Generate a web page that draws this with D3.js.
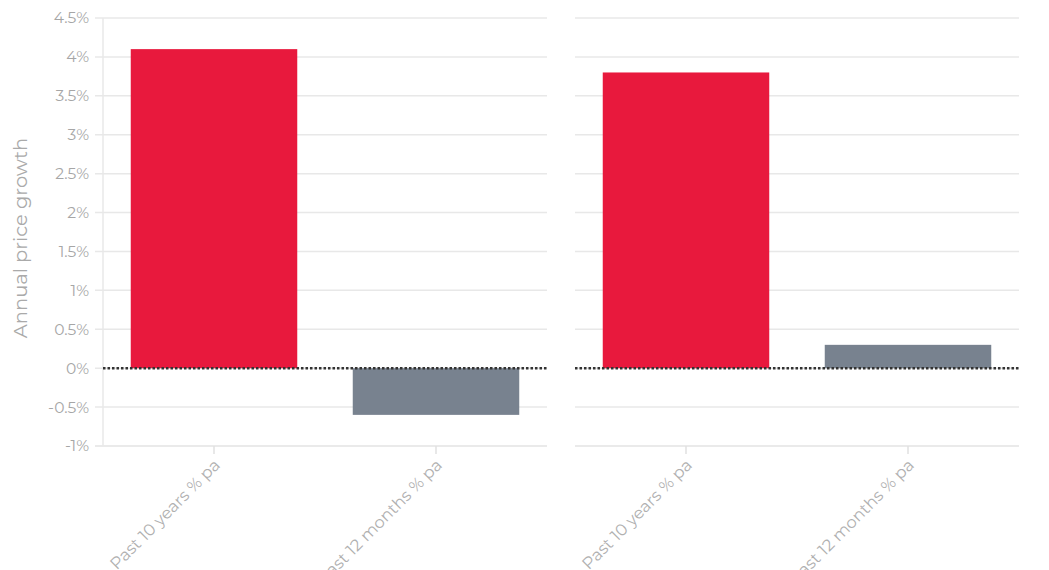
<!DOCTYPE html>
<html>
<head>
<meta charset="utf-8">
<script src="https://cdn.jsdelivr.net/npm/d3@7"></script>
<style>
  body { margin: 0; background: #fff; }
  svg text { font-family: Montserrat, "Open Sans", sans-serif; }
</style>
</head>
<body>
<svg id="chart" width="1049" height="570"></svg>
<script>
// categories and values
var categories = ['Past 10 years % pa', 'Past 12 months % pa']
var leftValues = [4.1, -0.6]
var rightValues = [3.8, 0.3]
var yTicks = [-1, -0.5, 0, 0.5, 1, 1.5, 2, 2.5, 3, 3.5, 4, 4.5]
var barColors = ['#e8193d', '#78828f']

var svg = d3.select('#chart')
var plotTop = 18, plotBottom = 446

var y = d3.scaleLinear().domain([-1, 4.5]).range([plotBottom, plotTop])

// y title
svg.append('text')
  .attr('transform', 'translate(27,238) rotate(-90)')
  .attr('text-anchor', 'middle')
  .attr('fill', '#aaa')
  .attr('font-size', '19.5px')
  .text('Annual price growth')

function drawPanel(x0, x1, values, showY) {
  var x = d3.scaleBand().domain(categories).range([x0, x1])
    .paddingInner(0.25).paddingOuter(0.125)
  var g = svg.append('g')

  // gridlines
  g.selectAll('.grid')
    .data(yTicks)
    .enter()
    .append('line')
    .attr('x1', showY ? x0 - 8 : x0)
    .attr('x2', x1)
    .attr('y1', function(d) { return y(d) })
    .attr('y2', function(d) { return y(d) })
    .attr('stroke', '#e8e8e8')
    .attr('stroke-width', 1.5)

  if (showY) {
    g.append('line')
      .attr('x1', x0).attr('x2', x0)
      .attr('y1', plotTop).attr('y2', plotBottom)
      .attr('stroke', '#e8e8e8')
      .attr('stroke-width', 1.5)
    var yAxis = d3.axisLeft(y)
      .tickValues(yTicks)
      .tickSize(0)
      .tickPadding(14)
      .tickFormat(function(d) { return d + '%' })
    var ya = g.append('g')
      .attr('transform', 'translate(' + x0 + ',0)')
      .call(yAxis)
    ya.select('.domain').remove()
    ya.selectAll('text')
      .attr('fill', '#a6a6a6')
      .attr('font-size', '15.5px')
  }

  // bars
  g.selectAll('.bar')
    .data(values)
    .enter()
    .append('rect')
    .attr('x', function(d, i) { return x(categories[i]) })
    .attr('width', x.bandwidth())
    .attr('y', function(d) { return y(Math.max(0, d)) })
    .attr('height', function(d) { return Math.abs(y(d) - y(0)) })
    .attr('fill', function(d, i) { return barColors[i] })

  // x axis
  var xAxis = d3.axisBottom(x).tickSize(8).tickPadding(4)
  var xa = g.append('g')
    .attr('transform', 'translate(0,' + plotBottom + ')')
    .call(xAxis)
  xa.select('.domain')
    .attr('d', 'M' + (showY ? x0 - 8 : x0) + ',0H' + x1)
    .attr('stroke', '#e8e8e8')
    .attr('stroke-width', 1.5)
  xa.selectAll('.tick line')
    .attr('stroke', '#e0e0e0')
    .attr('stroke-width', 1.5)
  xa.selectAll('.tick text')
    .attr('fill', '#b0b0b0')
    .attr('font-size', '16.5px')
    .attr('text-anchor', 'end')
    .attr('y', 0)
    .attr('dy', '0.35em')
    .attr('transform', 'translate(3,16) rotate(-45)')

  // zero line
  g.append('line')
    .attr('x1', x0).attr('x2', x1)
    .attr('y1', y(0)).attr('y2', y(0))
    .attr('stroke', '#333')
    .attr('stroke-width', 2.5)
    .attr('stroke-dasharray', '2.5,2')
}

drawPanel(103, 547, leftValues, true)
drawPanel(575, 1019, rightValues, false)
</script>
</body>
</html>
